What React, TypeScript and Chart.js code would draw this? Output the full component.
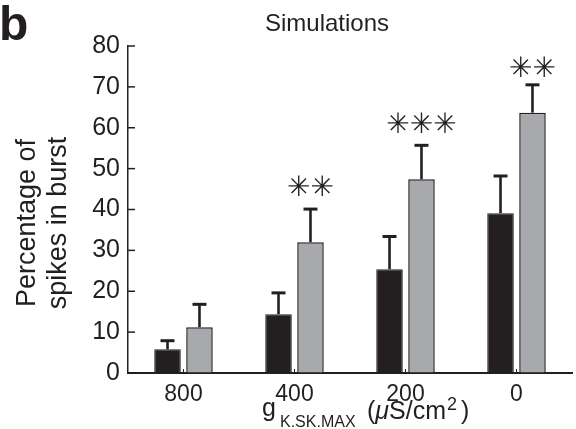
import { useEffect, useRef } from 'react';
import { Chart, registerables } from 'chart.js';

Chart.register(...registerables);

const categories = ['800', '400', '200', '0'];
const controlMean = [5.8, 14.4, 25.4, 39.1];
const controlErrTop = [7.9, 19.6, 33.4, 48.2];
const modMean = [11.2, 32.0, 47.4, 63.7];
const modErrTop = [16.8, 40.1, 55.7, 70.5];
const stars = ['', '✳✳', '✳✳✳', '✳✳'];
const starLevel = [0, 45, 60.5, 74.1];
const yTicks = [0, 10, 20, 30, 40, 50, 60, 70, 80];

const INK = '#231f20';
const GRAY = '#a7a9ac';
const FONT = "'Liberation Sans', Arial, Helvetica, sans-serif";

const extrasPlugin = {
  id: 'extras',
  afterDatasetsDraw(chart: any) {
    const ctx = chart.ctx as CanvasRenderingContext2D;
    const y = chart.scales.y;
    const errs = [controlErrTop, modErrTop];
    ctx.save();
    ctx.strokeStyle = INK;
    errs.forEach((arr, di) => {
      const meta = chart.getDatasetMeta(di);
      meta.data.forEach((el: any, j: number) => {
        const yc = y.getPixelForValue(arr[j]);
        ctx.lineWidth = 2.6;
        ctx.beginPath();
        ctx.moveTo(el.x, el.y);
        ctx.lineTo(el.x, yc);
        ctx.stroke();
        ctx.lineWidth = 3;
        ctx.beginPath();
        ctx.moveTo(el.x - 7, yc);
        ctx.lineTo(el.x + 7, yc);
        ctx.stroke();
      });
    });
    // significance stars
    const meta1 = chart.getDatasetMeta(1);
    ctx.fillStyle = INK;
    ctx.font = `28px 'DejaVu Sans', sans-serif`;
    ctx.textAlign = 'center';
    ctx.textBaseline = 'middle';
    meta1.data.forEach((el: any, j: number) => {
      if (!stars[j]) return;
      ctx.fillText(stars[j], el.x, y.getPixelForValue(starLevel[j]));
    });
    ctx.restore();
  },
  afterDraw(chart: any) {
    const ctx = chart.ctx as CanvasRenderingContext2D;
    const { left, bottom } = chart.chartArea;
    const ys = chart.scales.y;
    const xs = chart.scales.x;
    ctx.save();
    ctx.strokeStyle = INK;
    ctx.lineWidth = 1.5;
    // inward ticks on y axis
    yTicks.forEach((v) => {
      const py = ys.getPixelForValue(v);
      ctx.beginPath();
      ctx.moveTo(left, py);
      ctx.lineTo(left + 7, py);
      ctx.stroke();
    });
    // inward small ticks on x axis
    ctx.lineWidth = 1;
    categories.forEach((_, i) => {
      const px = xs.getPixelForValue(i);
      ctx.beginPath();
      ctx.moveTo(px, bottom);
      ctx.lineTo(px, bottom - 4);
      ctx.stroke();
    });

    ctx.fillStyle = INK;
    ctx.textBaseline = 'alphabetic';
    // panel letter
    ctx.font = `bold 48px ${FONT}`;
    ctx.textAlign = 'left';
    ctx.fillText('b', -1, 40);
    // title
    ctx.font = `24px ${FONT}`;
    ctx.textAlign = 'center';
    ctx.fillText('Simulations', 327, 31);
    // y title
    ctx.save();
    ctx.translate(35, 223);
    ctx.rotate(-Math.PI / 2);
    ctx.font = `27px ${FONT}`;
    ctx.textAlign = 'center';
    ctx.fillText('Percentage of', 0, 0);
    ctx.fillText('spikes in burst', 0, 31);
    ctx.restore();
    // x title
    ctx.textAlign = 'left';
    let x = 262;
    ctx.font = `25px ${FONT}`;
    ctx.fillText('g', x, 416);
    ctx.font = `16px ${FONT}`;
    ctx.fillText('K.SK.MAX', 280, 427);
    x = 367;
    ctx.font = `25px ${FONT}`;
    ctx.fillText('(', x, 419);
    x += ctx.measureText('(').width;
    ctx.font = `italic 25px ${FONT}`;
    ctx.fillText('μ', x, 419);
    x += ctx.measureText('μ').width;
    ctx.font = `25px ${FONT}`;
    ctx.fillText('S/cm', x, 419);
    x += ctx.measureText('S/cm').width + 1;
    ctx.font = `18px ${FONT}`;
    ctx.fillText('2', x, 410);
    x += ctx.measureText('2').width + 4;
    ctx.font = `25px ${FONT}`;
    ctx.fillText(')', x, 419);
    ctx.restore();
  },
};

export default function App() {
  const ref = useRef<HTMLCanvasElement>(null);
  useEffect(() => {
    const chart = new Chart(ref.current!, {
      type: 'bar',
      data: {
        labels: categories,
        datasets: [
          {
            label: 'control',
            data: controlMean,
            backgroundColor: INK,
            borderColor: INK,
            borderWidth: 1,
          },
          {
            label: 'reduced',
            data: modMean,
            backgroundColor: GRAY,
            borderColor: INK,
            borderWidth: 1.5,
          },
        ],
      },
      options: {
        responsive: false,
        animation: false,
        events: [],
        layout: { padding: { top: 46, right: 4, left: 0, bottom: 0 } },
        datasets: { bar: { categoryPercentage: 0.576, barPercentage: 0.83 } },
        plugins: { legend: { display: false }, tooltip: { enabled: false }, title: { display: false } },
        scales: {
          x: {
            grid: { display: false },
            border: { display: true, color: INK, width: 2 },
            ticks: { color: INK, font: { family: FONT, size: 23 }, padding: 0, maxRotation: 0 },
            afterFit: (s: any) => { s.height = 56; },
          },
          y: {
            min: 0,
            max: 80,
            grid: { display: true, drawOnChartArea: false, drawTicks: false },
            border: { display: true, color: INK, width: 1.5 },
            ticks: { color: INK, font: { family: FONT, size: 25 }, padding: 8, stepSize: 10 },
            afterFit: (s: any) => { s.width = 128; },
          },
        },
      },
      plugins: [extrasPlugin],
    });
    return () => chart.destroy();
  }, []);
  return (
    <div style={{ position: 'absolute', left: 0, top: 0, width: 576, height: 429, background: '#fff' }}>
      <canvas ref={ref} width={576} height={429} style={{ display: 'block' }} />
    </div>
  );
}
